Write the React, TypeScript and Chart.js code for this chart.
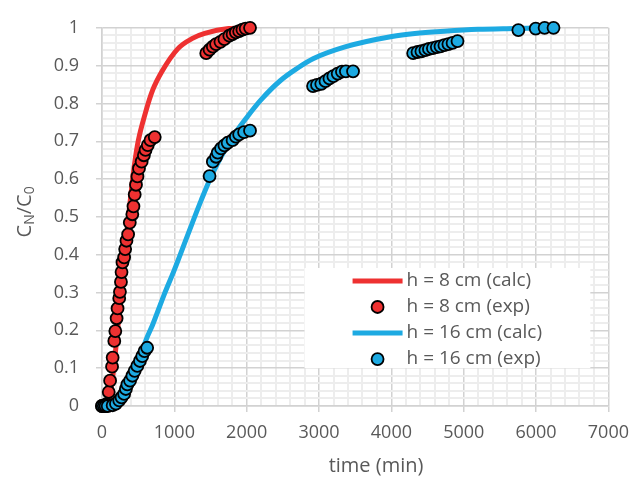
import React, { useEffect, useRef } from 'react';
import { Chart, registerables } from 'chart.js';

Chart.register(...registerables);

// ---------- data ----------
const seriesLabels = ['h = 8 cm (calc)', 'h = 8 cm (exp)', 'h = 16 cm (calc)', 'h = 16 cm (exp)'];

const redCalcTime = [40, 100, 150, 200, 250, 300, 350, 400, 450, 500, 600, 700, 830, 1050, 1250, 1420, 1750, 2050];
const redCalcValue = [0, 0.02, 0.08, 0.17, 0.27, 0.37, 0.47, 0.56, 0.64, 0.7, 0.775, 0.835, 0.885, 0.945, 0.972, 0.985, 0.998, 1.0];

const redExpTime = [0, 30, 60, 93, 112, 139, 147, 170, 184, 202, 215, 238, 248, 262, 270, 283, 306, 320, 338, 361, 384, 419, 435,
  452, 470, 490, 511, 548, 579, 602, 633, 670, 729,
  1441, 1487, 1532, 1577, 1637, 1692, 1760, 1805, 1850, 1896, 1941, 1986, 2046];
const redExpValue = [0, 0, 0.005, 0.037, 0.067, 0.104, 0.128, 0.172, 0.198, 0.232, 0.258, 0.285, 0.302, 0.328, 0.354, 0.38, 0.393, 0.415, 0.437, 0.454, 0.485, 0.507, 0.528,
  0.559, 0.585, 0.607, 0.628, 0.646, 0.663, 0.677, 0.69, 0.703, 0.711,
  0.933, 0.942, 0.95, 0.957, 0.963, 0.97, 0.979, 0.983, 0.988, 0.991, 0.995, 0.998, 1.0];

const blueCalcTime = [200, 300, 400, 480, 555, 620, 700, 850, 1000, 1200, 1373, 1500, 1650, 1800, 2009, 2200, 2463, 2700, 2917, 3371, 4007, 4324, 4733, 5200, 5700, 6250];
const blueCalcValue = [0, 0.015, 0.06, 0.1, 0.145, 0.18, 0.215, 0.29, 0.36, 0.46, 0.545, 0.603, 0.66, 0.71, 0.765, 0.81, 0.86, 0.893, 0.918, 0.95, 0.977, 0.985, 0.991, 0.996, 0.998, 1.0];

const blueExpTime = [0, 25, 50, 79, 147, 193, 238, 270, 306, 330, 351, 388, 420, 452, 488, 524, 556, 588, 624,
  1487, 1532, 1577, 1600, 1646, 1692, 1737, 1805, 1850, 1896, 1964, 2046,
  2917, 2972, 3031, 3089, 3144, 3198, 3258, 3317, 3371, 3470,
  4301, 4361, 4415, 4470, 4519, 4574, 4628, 4679, 4733, 4788, 4846, 4914,
  5755, 5995, 6118, 6241];
const blueExpValue = [0, 0, 0, 0, 0.002, 0.006, 0.015, 0.023, 0.032, 0.045, 0.057, 0.067, 0.08, 0.093, 0.106, 0.119, 0.132, 0.145, 0.154,
  0.608, 0.646, 0.659, 0.67, 0.681, 0.689, 0.696, 0.703, 0.712, 0.718, 0.724, 0.728,
  0.846, 0.849, 0.852, 0.859, 0.866, 0.872, 0.879, 0.884, 0.885, 0.885,
  0.933, 0.936, 0.938, 0.941, 0.944, 0.946, 0.949, 0.951, 0.954, 0.957, 0.96, 0.965,
  0.994, 0.998, 1.0, 1.0];

const xTitle = 'time (min)';

// ---------- styles ----------
const RED = '#EE3131';
const BLUE = '#1DAAE2';
const TEXT = '#595959';
const MAJOR = '#d2d2d2';
const MINOR = '#ededed';
const FONT = "'Open Sans', 'Liberation Sans', sans-serif";

const toXY = (xs: number[], ys: number[]) => xs.map((x, i) => ({ x, y: ys[i] }));
const isMajorX = (v: number) => Math.round(v) % 1000 === 0;
const isMajorY = (v: number) => Math.round(v * 100) % 10 === 0;

const titlesPlugin = {
  id: 'axisTitles',
  afterDraw(chart: any) {
    const { ctx, chartArea } = chart;
    ctx.save();
    ctx.fillStyle = TEXT;
    // x title
    ctx.font = `20px ${FONT}`;
    ctx.textAlign = 'center';
    ctx.textBaseline = 'middle';
    ctx.fillText(xTitle, 376, 466);
    // y title with subscripts: C_N/C_0
    const big = `20px ${FONT}`;
    const small = `14px ${FONT}`;
    const parts: [string, string, number][] = [['C', big, 0], ['N', small, 5], ['/C', big, 0], ['0', small, 5]];
    let total = 0;
    for (const [t, f] of parts) { ctx.font = f; total += ctx.measureText(t).width; }
    const cy = (chartArea.top + chartArea.bottom) / 2 - 5;
    ctx.translate(25, cy);
    ctx.rotate(-Math.PI / 2);
    ctx.textAlign = 'left';
    ctx.textBaseline = 'middle';
    let x = -total / 2;
    for (const [t, f, dy] of parts) {
      ctx.font = f;
      ctx.fillText(t, x, dy);
      x += ctx.measureText(t).width;
    }
    ctx.restore();
  },
};

const legendPlugin = {
  id: 'boxLegend',
  afterDraw(chart: any) {
    const { ctx } = chart;
    const xs = chart.scales.x;
    const ys = chart.scales.y;
    const l = xs.getPixelForValue(2800);
    const r = xs.getPixelForValue(6750);
    const t = ys.getPixelForValue(0.365);
    const b = ys.getPixelForValue(0.1);
    ctx.save();
    ctx.fillStyle = '#ffffff';
    ctx.fillRect(l, t, r - l, b - t);
    const symX0 = l + 48;
    const symX1 = l + 98;
    const textX = l + 102;
    const rowH = (b - t) / 3.85;
    seriesLabels.forEach((label, i) => {
      const y = t + 13 + i * rowH;
      const color = i < 2 ? RED : BLUE;
      if (i % 2 === 0) {
        ctx.strokeStyle = color;
        ctx.lineWidth = 5;
        ctx.beginPath();
        ctx.moveTo(symX0, y);
        ctx.lineTo(symX1, y);
        ctx.stroke();
      } else {
        ctx.beginPath();
        ctx.arc((symX0 + symX1) / 2, y, 6, 0, Math.PI * 2);
        ctx.fillStyle = color;
        ctx.fill();
        ctx.lineWidth = 1.8;
        ctx.strokeStyle = '#000';
        ctx.stroke();
      }
      ctx.fillStyle = TEXT;
      ctx.font = `19px ${FONT}`;
      ctx.textAlign = 'left';
      ctx.textBaseline = 'middle';
      ctx.fillText(label, textX, y);
    });
    ctx.restore();
  },
};

export default function App() {
  const ref = useRef<HTMLCanvasElement | null>(null);

  useEffect(() => {
    document.body.style.margin = '0';
    if (!ref.current) return;
    const chart = new Chart(ref.current, {
      type: 'scatter',
      data: {
        datasets: [
          {
            label: seriesLabels[3],
            data: toXY(blueExpTime, blueExpValue),
            showLine: false,
            pointRadius: 6,
            pointBackgroundColor: BLUE,
            pointBorderColor: '#000',
            pointBorderWidth: 1.8,
            order: 0,
            clip: false as any,
          },
          {
            label: seriesLabels[2],
            data: toXY(blueCalcTime, blueCalcValue),
            showLine: true,
            pointRadius: 0,
            borderColor: BLUE,
            borderWidth: 5,
            cubicInterpolationMode: 'monotone',
            order: 1,
            clip: false as any,
          },
          {
            label: seriesLabels[1],
            data: toXY(redExpTime, redExpValue),
            showLine: false,
            pointRadius: 6,
            pointBackgroundColor: RED,
            pointBorderColor: '#000',
            pointBorderWidth: 1.8,
            order: 2,
            clip: false as any,
          },
          {
            label: seriesLabels[0],
            data: toXY(redCalcTime, redCalcValue),
            showLine: true,
            pointRadius: 0,
            borderColor: RED,
            borderWidth: 5,
            cubicInterpolationMode: 'monotone',
            order: 3,
            clip: false as any,
          },
        ] as any,
      },
      options: {
        animation: false,
        responsive: false,
        devicePixelRatio: 1,
        layout: { padding: { left: 0, right: 23, top: 22, bottom: 0 } },
        plugins: { legend: { display: false }, tooltip: { enabled: false } },
        scales: {
          x: {
            type: 'linear',
            min: 0,
            max: 7000,
            afterFit: (s: any) => { s.height = 75; },
            ticks: {
              stepSize: 200,
              autoSkip: false,
              maxRotation: 0,
              padding: 10,
              color: TEXT,
              font: { family: FONT, size: 18 },
              callback: (v: any) => (isMajorX(Number(v)) ? String(Math.round(Number(v))) : ''),
            },
            grid: {
              color: (c: any) => (isMajorX(c.tick.value) ? MAJOR : MINOR),
              lineWidth: (c: any) => (isMajorX(c.tick.value) ? 1.5 : 2),
              tickColor: (c: any) => (isMajorX(c.tick.value) ? MAJOR : 'rgba(0,0,0,0)'),
              tickLength: 6,
            },
            border: { color: MAJOR, width: 1.5 },
          },
          y: {
            type: 'linear',
            min: 0,
            max: 1,
            afterFit: (s: any) => { s.width = 102; },
            ticks: {
              stepSize: 0.02,
              autoSkip: false,
              padding: 17,
              color: TEXT,
              font: { family: FONT, size: 18 },
              callback: (v: any) => {
                const r = Math.round(Number(v) * 100);
                return r % 10 === 0 ? String(r / 100) : '';
              },
            },
            grid: {
              color: (c: any) => (isMajorY(c.tick.value) ? MAJOR : MINOR),
              lineWidth: (c: any) => (isMajorY(c.tick.value) ? 1.5 : 2),
              tickColor: (c: any) => (isMajorY(c.tick.value) ? MAJOR : 'rgba(0,0,0,0)'),
              tickLength: 6,
            },
            border: { color: MAJOR, width: 1.5 },
          },
        },
      } as any,
      plugins: [titlesPlugin, legendPlugin],
    });
    return () => chart.destroy();
  }, []);

  return (
    <div style={{ width: 639, height: 481, background: '#fff' }}>
      <canvas ref={ref} width={639} height={481} style={{ display: 'block' }} />
    </div>
  );
}
